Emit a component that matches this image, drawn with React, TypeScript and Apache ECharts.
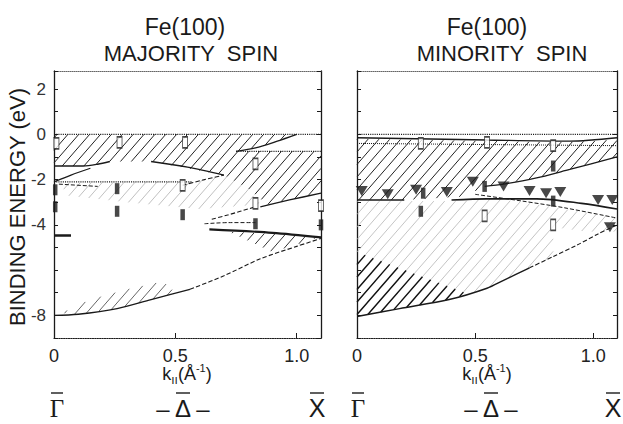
import React, { useEffect, useRef } from 'react';
import * as echarts from 'echarts';

const FONT = '"Liberation Sans", Arial, sans-serif';
const INK = '#1a1a1a';

// ---- axis tick labels ----
const K_TICK_LABELS = ['0', '0.5', '1.0'];
const K_TICK_VALUES = [0, 0.5, 1.0];
const E_TICK_LABELS = [2, 0, -2, -4, -8];

// ---- MAJORITY SPIN panel ----
const majHatchUpper = [[0, 0], [1.0, 0], [0.92, -0.3], [0.83, -0.6], [0.75, -0.75], [1.1, -0.75], [1.1, -2.6], [0.97, -2.9], [0.88, -3.1], [0.8, -2.4], [0.7, -1.8], [0.55, -1.5], [0.4, -1.2], [0.23, -1.2], [0.15, -1.4], [0, -1.4]];
const majHatchFaint = [[0.03, -2.15], [0.57, -2.1], [0.7, -1.8], [0.8, -2.4], [0.85, -3.1], [0.6, -3.3], [0.3, -3.0], [0.05, -2.7]];
const majHatchMid = [[0.72, -4.3], [1.1, -4.5], [1.05, -4.7], [0.9, -5.2]];
const majHatchLow = [[0.03, -7.9], [0.15, -7.3], [0.3, -6.85], [0.45, -6.5], [0.5, -7.0], [0.4, -7.3], [0.26, -7.7], [0.1, -7.95]];

const majFermi = [[0, 0], [1.1, 0]];
const majDot075 = [[0.75, -0.75], [1.1, -0.75]];
const majDot21 = [[0, -2.1], [0.57, -2.1]];
const majBand1 = [[0, -1.4], [0.12, -1.4], [0.18, -1.32], [0.23, -1.2]];
const majBand2 = [[0, -2.1], [0.07, -1.8], [0.15, -1.5]];
const majBand3 = [[0.4, -1.2], [0.55, -1.45], [0.7, -1.8]];
const majBand3Dash = [[0.53, -2.25], [0.62, -2.0], [0.7, -1.8]];
const majBand4 = [[0.75, -0.75], [0.83, -0.6], [0.92, -0.3], [1.0, 0]];
const majBand5 = [[0.85, -3.2], [0.97, -2.9], [1.1, -2.6]];
const majBand6Dash = [[0.65, -3.75], [0.72, -3.55], [0.83, -3.2]];
const majBand7 = [[0.64, -4.2], [0.9, -4.35], [1.1, -4.55]];
const majBand7Dash = [[0.62, -3.95], [0.72, -3.9], [0.83, -3.9]];
const majLower = [[0, -8.0], [0.1, -7.95], [0.26, -7.7], [0.4, -7.3], [0.56, -6.85]];
const majLowerDash = [[0.56, -6.85], [0.7, -6.25], [0.85, -5.5], [1.0, -4.95], [1.1, -4.6]];
const majGammaBar = [[0, -4.47], [0.07, -4.47]];
const majDashShort = [[0.02, -2.2], [0.18, -2.3]];

const majOpen = [[0.01, -0.4], [0.27, -0.35], [0.54, -0.35], [0.83, -1.3], [0.53, -2.25], [0.83, -3.05], [1.1, -3.15]];
const majFilled = [[0.005, -2.45], [0.005, -3.2], [0.26, -2.4], [0.26, -3.4], [0.53, -3.55], [0.83, -3.95], [1.1, -4.0]];

// ---- MINORITY SPIN panel ----
const minHatchUpper = [[0, -0.2], [0.3, -0.25], [0.6, -0.3], [0.85, -0.35], [1.0, -0.3], [1.1, -0.22], [1.1, -1.0], [0.9, -1.55], [0.75, -1.95], [0.62, -2.2], [0.54, -2.3], [0.45, -2.75], [0.2, -2.9], [0, -2.9]];
const minHatchLower = [[0, -2.95], [0.45, -2.95], [0.55, -2.8], [0.7, -3.0], [0.88, -3.3], [1.0, -3.5], [1.1, -3.7], [1.1, -4.3], [0.97, -4.3], [0.83, -4.1], [0.83, -5.4], [0.73, -5.9], [0.62, -6.45], [0.55, -6.8], [0.39, -7.3], [0.18, -7.7], [0, -8.05]];
const minHatchDense = [[0, -5.2], [0.47, -7.05], [0.39, -7.3], [0.18, -7.7], [0, -8.05]];

const minFermi = [[0, 0], [1.1, 0]];
const minDot2 = [[0, -0.4], [1.1, -0.5]];
const minTop = [[0, -0.15], [0.55, -0.25], [0.9, -0.3], [1.1, -0.15]];
const minBand1 = [[0.54, -2.3], [0.62, -2.2], [0.75, -1.95], [0.9, -1.55], [1.1, -1.0]];
const minBand2 = [[0, -2.9], [0.2, -2.9]];
const minBand3 = [[0.4, -2.9], [0.55, -2.85], [0.76, -2.85], [0.95, -3.05], [1.1, -3.3]];
const minDash1 = [[0.5, -2.65], [0.7, -2.95], [0.88, -3.25], [1.1, -3.7]];
const minLower = [[0, -8.05], [0.18, -7.7], [0.39, -7.3], [0.55, -6.8], [0.62, -6.45], [0.73, -5.9]];
const minLowerDash = [[0.73, -5.9], [0.83, -5.4], [0.93, -4.9], [1.02, -4.4], [1.1, -4.0]];

const minOpen = [[0.27, -0.4], [0.55, -0.35], [0.83, -0.5], [0.54, -3.6], [0.83, -4.0]];
const minFilled = [[0.83, -1.4], [0.54, -2.3], [0.83, -2.95], [0.28, -2.6], [0.27, -3.4]];
const minTriangles = [[0.02, -2.5], [0.13, -2.65], [0.25, -2.45], [0.38, -2.55], [0.49, -2.1], [0.62, -2.3], [0.73, -2.5], [0.8, -2.6], [0.86, -2.55], [1.02, -2.9], [1.08, -2.9], [1.07, -4.1]];

// ---- symmetry-point labels under each panel ----
const SYM_LABELS = ['\u0393', '\u2013 \u0394 \u2013', 'X'];

// ---- hatch helper (pixel space, "/" lines) ----
const SLOPE = 1.15;
const STEP = 12.5;
function hatch(pts: number[][]) {
  const val = (p: number[]) => SLOPE * p[0] + p[1];
  const vals = pts.map(val);
  const lo = Math.ceil(Math.min(...vals) / STEP) * STEP;
  const hi = Math.max(...vals);
  const segs: number[][][] = [];
  for (let c = lo; c <= hi; c += STEP) {
    const xs: number[][] = [];
    for (let i = 0; i < pts.length; i++) {
      const a = pts[i];
      const b = pts[(i + 1) % pts.length];
      const sa = val(a) - c;
      const sb = val(b) - c;
      if ((sa < 0 && sb >= 0) || (sa >= 0 && sb < 0)) {
        const t = sa / (sa - sb);
        xs.push([a[0] + t * (b[0] - a[0]), a[1] + t * (b[1] - a[1])]);
      }
    }
    xs.sort((p, q) => p[0] - q[0]);
    for (let j = 0; j + 1 < xs.length; j += 2) segs.push([xs[j], xs[j + 1]]);
  }
  return segs;
}

function hatchSeries(poly: number[][], g: number, color: string, width: number) {
  return {
    type: 'custom',
    xAxisIndex: g * 2,
    yAxisIndex: g * 2,
    silent: true,
    z: 1,
    data: poly,
    renderItem: (params: any, api: any) => {
      if (params.dataIndex !== 0) return null;
      const px = poly.map((p) => api.coord(p));
      const segs = hatch(px);
      return {
        type: 'group',
        children: segs.map((s) => ({
          type: 'line',
          shape: { x1: s[0][0], y1: s[0][1], x2: s[1][0], y2: s[1][1] },
          style: { stroke: color, lineWidth: width },
        })),
      };
    },
  };
}

function lineSeries(data: number[][], g: number, type: string = 'solid', width = 1.3, smooth = true, color = INK) {
  return {
    type: 'line',
    xAxisIndex: g * 2,
    yAxisIndex: g * 2,
    data,
    smooth: smooth ? 0.3 : false,
    symbol: 'none',
    silent: true,
    z: 3,
    lineStyle: { color, width, type },
  };
}

function scatterSeries(data: number[][], g: number, kind: 'open' | 'filled' | 'tri') {
  const base: any = { type: 'scatter', xAxisIndex: g * 2, yAxisIndex: g * 2, data, silent: true, z: 5 };
  if (kind === 'open') {
    base.symbol = 'rect';
    base.symbolSize = [5, 11];
    base.itemStyle = { color: '#fff', borderColor: INK, borderWidth: 1.2 };
  } else if (kind === 'filled') {
    base.symbol = 'rect';
    base.symbolSize = [4.5, 11];
    base.itemStyle = { color: INK };
  } else {
    base.symbol = 'triangle';
    base.symbolRotate = 180;
    base.symbolSize = [12, 10];
    base.itemStyle = { color: INK };
  }
  return base;
}

function xAxes(g: number) {
  return [
    {
      gridIndex: g, type: 'value', min: 0, max: 1.1, interval: 0.5, position: 'bottom',
      axisLine: { show: true, onZero: false, lineStyle: { color: INK, type: 'dotted', width: 1.2 } },
      axisTick: { show: true, inside: true, length: 5, lineStyle: { color: INK } },
      axisLabel: {
        fontSize: 18, fontFamily: FONT, color: '#222', margin: 9,
        formatter: (v: number) => {
          const i = K_TICK_VALUES.findIndex((t) => Math.abs(t - v) < 1e-6);
          return i >= 0 ? K_TICK_LABELS[i] : '';
        },
      },
      splitLine: { show: false },
    },
    {
      gridIndex: g, type: 'value', min: 0, max: 1.1, position: 'top',
      axisLine: { show: true, onZero: false, lineStyle: { color: '#666', type: 'dotted', width: 1 } },
      axisTick: { show: false }, axisLabel: { show: false }, splitLine: { show: false },
    },
  ];
}

function yAxes(g: number, labels: boolean) {
  return [
    {
      gridIndex: g, type: 'value', min: -9, max: 2.8, interval: 1, position: 'left',
      axisLine: { show: true, onZero: false, lineStyle: { color: INK, width: 1.3 } },
      axisTick: { show: true, inside: true, length: 4, lineStyle: { color: INK } },
      axisLabel: {
        show: labels, fontSize: 17, fontFamily: FONT, color: '#333', margin: 8,
        formatter: (v: number) => (E_TICK_LABELS.includes(v) ? String(v) : ''),
      },
      splitLine: { show: false },
    },
    {
      gridIndex: g, type: 'value', min: -9, max: 2.8, interval: 1, position: 'right',
      axisLine: { show: true, onZero: false, lineStyle: { color: INK, width: 1.3 } },
      axisTick: { show: true, inside: true, length: 4, lineStyle: { color: INK } },
      axisLabel: { show: false }, splitLine: { show: false },
    },
  ];
}

function txt(text: string, x: number, y: number, size: number, family = FONT, rotation = 0) {
  return {
    type: 'text', x, y, rotation, silent: true,
    style: {
      text, fill: INK, font: `${size}px ${family}`,
      align: 'center', verticalAlign: 'middle', textAlign: 'center', textVerticalAlign: 'middle',
    },
  };
}

function bar(x1: number, x2: number, y: number) {
  return { type: 'line', silent: true, shape: { x1, y1: y, x2, y2: y }, style: { stroke: INK, lineWidth: 1.4 } };
}

function kLabel(x: number, y: number) {
  return {
    type: 'text', x, y, silent: true,
    style: {
      text: '{a|k}{b|ıı}{a|(\u00C5}{c|-1}{a|)}',
      fill: INK,
      align: 'center', verticalAlign: 'middle', textAlign: 'center', textVerticalAlign: 'middle',
      rich: {
        a: { fontSize: 18, fontFamily: FONT, fill: INK, color: INK, lineHeight: 24, verticalAlign: 'middle' },
        b: { fontSize: 12, fontFamily: FONT, fill: INK, color: INK, lineHeight: 24, verticalAlign: 'bottom' },
        c: { fontSize: 11, fontFamily: FONT, fill: INK, color: INK, lineHeight: 24, verticalAlign: 'top' },
      },
    },
  };
}

export default function App() {
  const ref = useRef<HTMLDivElement>(null);
  useEffect(() => {
    if (!ref.current) return;
    const chart = echarts.init(ref.current, undefined, { renderer: 'svg' });
    const option: any = {
      animation: false,
      backgroundColor: '#fff',
      grid: [
        { left: 54, top: 71, width: 267, height: 267 },
        { left: 357, top: 71, width: 260, height: 267 },
      ],
      xAxis: [...xAxes(0), ...xAxes(1)],
      yAxis: [...yAxes(0, true), ...yAxes(1, false)],
      series: [
        // majority hatching
        hatchSeries(majHatchUpper, 0, '#222', 1),
        hatchSeries(majHatchFaint, 0, '#b0b0b0', 0.8),
        hatchSeries(majHatchMid, 0, '#333', 1),
        hatchSeries(majHatchLow, 0, '#555', 0.9),
        // majority lines
        lineSeries(majFermi, 0, 'dotted', 1.1, false),
        lineSeries(majDot075, 0, 'dotted', 1.1, false),
        lineSeries(majDot21, 0, 'dotted', 1.1, false),
        lineSeries(majBand1, 0, 'solid', 1.4),
        lineSeries(majBand2, 0, 'solid', 1.2),
        lineSeries(majBand3, 0, 'solid', 1.3),
        lineSeries(majBand3Dash, 0, 'dashed', 1.1),
        lineSeries(majBand4, 0, 'solid', 1.3),
        lineSeries(majBand5, 0, 'solid', 1.3),
        lineSeries(majBand6Dash, 0, 'dashed', 1.1),
        lineSeries(majBand7, 0, 'solid', 2.2),
        lineSeries(majBand7Dash, 0, 'dashed', 1.0),
        lineSeries(majLower, 0, 'solid', 1.3),
        lineSeries(majLowerDash, 0, 'dashed', 1.1),
        lineSeries(majGammaBar, 0, 'solid', 2.5, false),
        lineSeries(majDashShort, 0, 'dashed', 1.0, false),
        scatterSeries(majOpen, 0, 'open'),
        scatterSeries(majFilled, 0, 'filled'),
        // minority hatching
        hatchSeries(minHatchUpper, 1, '#222', 1),
        hatchSeries(minHatchLower, 1, '#b5b5b5', 0.8),
        hatchSeries(minHatchDense, 1, '#111', 1.4),
        // minority lines
        lineSeries(minFermi, 1, 'dotted', 1.1, false),
        lineSeries(minDot2, 1, 'dotted', 1.0, false),
        lineSeries(minTop, 1, 'solid', 1.4),
        lineSeries(minBand1, 1, 'solid', 1.3),
        lineSeries(minBand2, 1, 'solid', 1.5, false),
        lineSeries(minBand3, 1, 'solid', 1.6),
        lineSeries(minDash1, 1, 'dashed', 1.0),
        lineSeries(minLower, 1, 'solid', 1.4),
        lineSeries(minLowerDash, 1, 'dashed', 1.1),
        scatterSeries(minOpen, 1, 'open'),
        scatterSeries(minFilled, 1, 'filled'),
        scatterSeries(minTriangles, 1, 'tri'),
      ],
      graphic: [
        txt('Fe(100)', 185, 27, 23),
        txt('MAJORITY  SPIN', 191, 53, 22),
        txt('Fe(100)', 487, 27, 23),
        txt('MINORITY  SPIN', 502, 53, 22),
        txt('BINDING ENERGY (eV)', 17, 207, 22, FONT, Math.PI / 2),
        kLabel(187, 374),
        kLabel(487, 374),
        txt(SYM_LABELS[0], 57, 408, 25, '"Liberation Serif", serif'),
        txt(SYM_LABELS[1], 183, 408, 24),
        txt(SYM_LABELS[2], 317, 408, 25),
        txt(SYM_LABELS[0], 358, 408, 25, '"Liberation Serif", serif'),
        txt(SYM_LABELS[1], 491, 408, 24),
        txt(SYM_LABELS[2], 613, 408, 25),
        bar(51, 63, 393),
        bar(176, 190, 393),
        bar(310, 324, 393),
        bar(352, 364, 393),
        bar(484, 498, 393),
        bar(606, 620, 393),
      ],
    };
    chart.setOption(option);
    return () => chart.dispose();
  }, []);
  return <div ref={ref} style={{ position: 'absolute', left: 0, top: 0, width: 623, height: 424 }} />;
}
